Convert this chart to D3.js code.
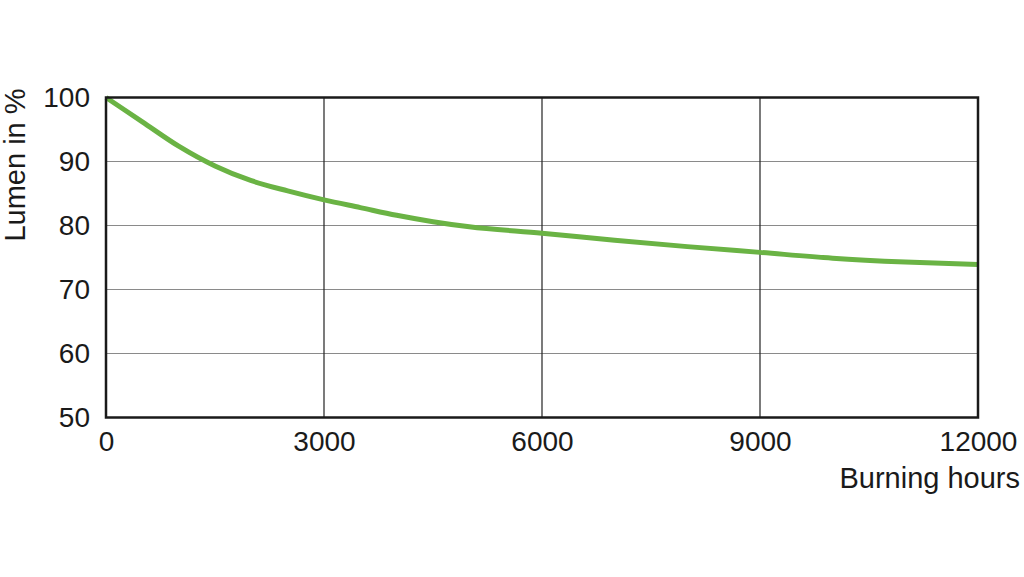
<!DOCTYPE html>
<html>
<head>
<meta charset="utf-8">
<script src="https://cdn.jsdelivr.net/npm/d3@7"></script>
<style>
  html, body { margin: 0; padding: 0; background: #fff; }
  svg { display: block; font-family: "Liberation Sans", Arial, sans-serif; }
</style>
</head>
<body>
<svg id="chart" width="1024" height="577"></svg>
<script>
const hours = [0, 500, 1000, 1500, 2000, 2500, 3000, 3500, 4000, 4500, 5000, 6000, 7000, 8000, 9000, 10000, 11000, 12000];
const lumen = [100, 96.2, 92.4, 89.3, 87.0, 85.4, 84.0, 82.8, 81.6, 80.6, 79.8, 78.8, 77.7, 76.7, 75.8, 74.9, 74.3, 73.9];
const xTicks = [0, 3000, 6000, 9000, 12000];
const yTicks = [50, 60, 70, 80, 90, 100];
const xTitle = "Burning hours";
const yTitle = "Lumen in %";

(function () {
const svg = d3.select("#chart");
const pLeft = 106, pRight = 978, pTop = 97.5, pBottom = 417.5;

const x = d3.scaleLinear().domain([0, 12000]).range([pLeft, pRight]);
const y = d3.scaleLinear().domain([50, 100]).range([pBottom, pTop]);

// horizontal grid
svg.append("g").selectAll("line").data(yTicks.slice(1, -1)).join("line")
  .attr("x1", pLeft).attr("x2", pRight)
  .attr("y1", d => y(d)).attr("y2", d => y(d))
  .attr("stroke", "#8a8a8a").attr("stroke-width", 1.2);

// vertical grid
svg.append("g").selectAll("line").data(xTicks.slice(1, -1)).join("line")
  .attr("x1", d => x(d)).attr("x2", d => x(d))
  .attr("y1", pTop).attr("y2", pBottom)
  .attr("stroke", "#222").attr("stroke-width", 1.2);

// curve
const line = d3.line().x((d, i) => x(hours[i])).y(d => y(d)).curve(d3.curveMonotoneX);
svg.append("path").datum(lumen)
  .attr("d", line)
  .attr("fill", "none")
  .attr("stroke", "#6ab344")
  .attr("stroke-width", 5)
  .attr("stroke-linecap", "butt");

// frame
svg.append("rect").attr("x", pLeft).attr("y", pTop)
  .attr("width", pRight - pLeft).attr("height", pBottom - pTop)
  .attr("fill", "none").attr("stroke", "#1a1a1a").attr("stroke-width", 2.5);

// y axis labels
const yAxis = d3.axisLeft(y).tickValues(yTicks).tickSize(0).tickPadding(16);
const gy = svg.append("g").attr("transform", `translate(${pLeft},0)`).call(yAxis);
gy.select(".domain").remove();
gy.selectAll("text").attr("font-size", 28).attr("fill", "#1a1a1a")
  .attr("font-family", "Liberation Sans, Arial, sans-serif");

// x axis labels
const xAxis = d3.axisBottom(x).tickValues(xTicks).tickFormat(d3.format("d")).tickSize(0).tickPadding(14);
const gx = svg.append("g").attr("transform", `translate(0,${pBottom})`).call(xAxis);
gx.select(".domain").remove();
gx.selectAll("text").attr("font-size", 28).attr("fill", "#1a1a1a")
  .attr("font-family", "Liberation Sans, Arial, sans-serif");

// titles
svg.append("text").attr("x", 1020).attr("y", 488)
  .attr("text-anchor", "end").attr("font-size", 29).attr("fill", "#1a1a1a")
  .text(xTitle);
svg.append("text")
  .attr("transform", "translate(25,165) rotate(-90)")
  .attr("text-anchor", "middle").attr("font-size", 29).attr("fill", "#1a1a1a")
  .text(yTitle);
})();
</script>
</body>
</html>
